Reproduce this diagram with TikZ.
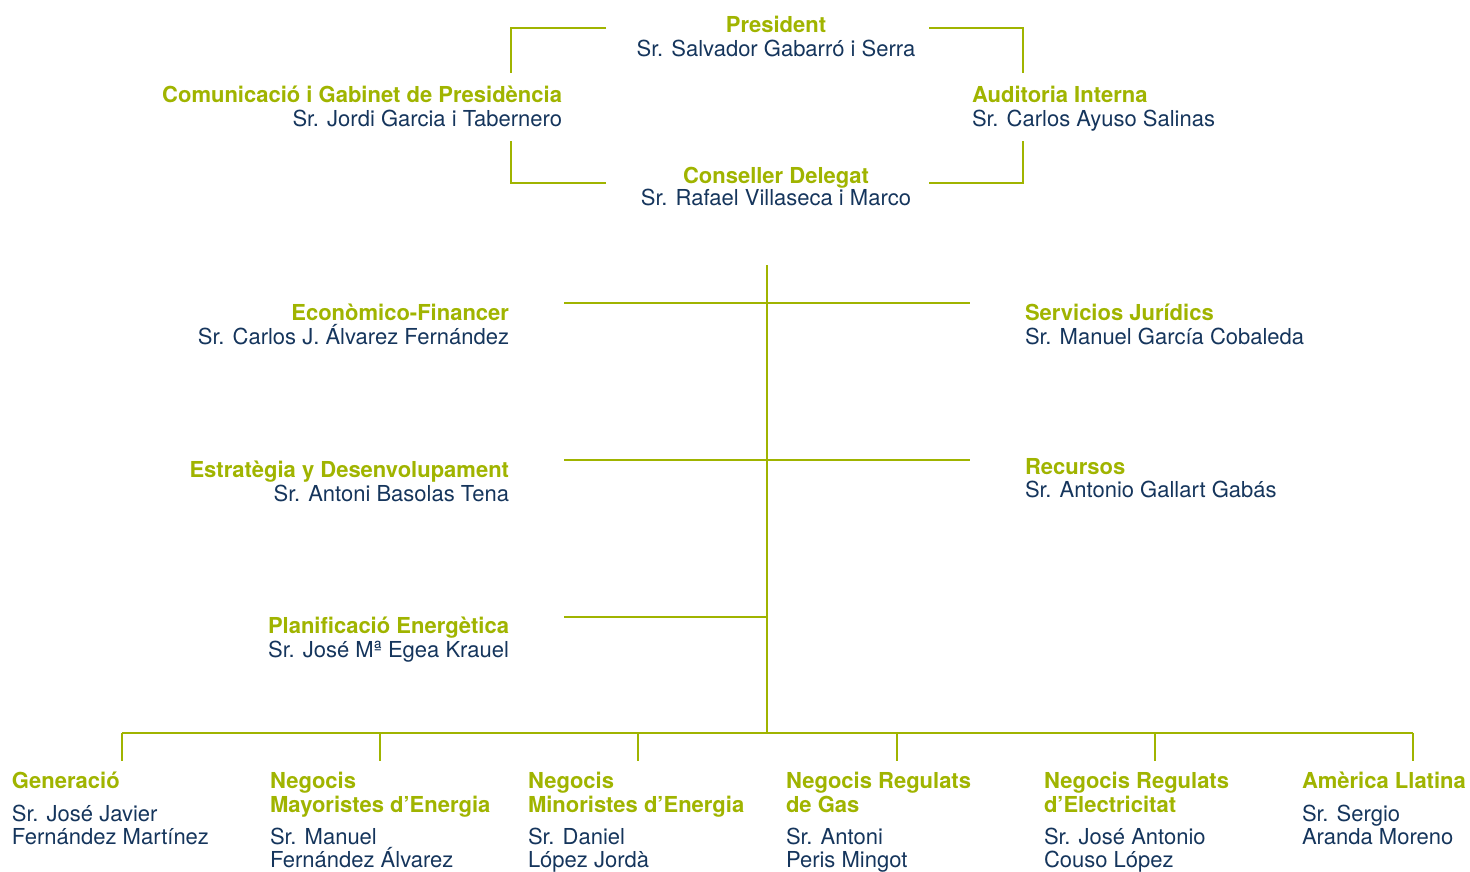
\documentclass[tikz,border=0pt]{standalone}
\usepackage{fontspec}
\setmainfont{TeX Gyre Heros}
\definecolor{orgGreen}{HTML}{A0B400}
\definecolor{orgNavy}{HTML}{15355C}
\tikzset{
  ttl/.style={font=\fontsize{22}{24}\selectfont\bfseries, text=orgGreen, inner sep=0pt, outer sep=0pt},
  nm/.style={font=\fontsize{22}{24}\selectfont, text=orgNavy, inner sep=0pt, outer sep=0pt},
  ln/.style={draw=orgGreen, line width=2pt}
}
\begin{document}
\begin{tikzpicture}[x=1pt,y=-1pt]
\useasboundingbox (0,0) rectangle (1470,871);
% --- top block ---
\node[ttl, anchor=base] (pres) at (776,32.5) {President};
\node[nm, anchor=base] (presN) at (776,56.5) {Sr. Salvador Gabarró i Serra};
\node[ttl, anchor=base east] (com) at (562,102.5) {Comunicació i Gabinet de Presidència};
\node[nm, anchor=base east] (comN) at (562,126.5) {Sr. Jordi Garcia i Tabernero};
\node[ttl, anchor=base west] (aud) at (972,102.5) {Auditoria Interna};
\node[nm, anchor=base west] (audN) at (972,126.5) {Sr. Carlos Ayuso Salinas};
\node[ttl, anchor=base] (cons) at (776,183.5) {Conseller Delegat};
\node[nm, anchor=base] (consN) at (776,205.5) {Sr. Rafael Villaseca i Marco};
% brackets
\coordinate (pL) at (606,28); \coordinate (pLc) at (511,28); \coordinate (comT) at (511,73);
\coordinate (pR) at (929,28); \coordinate (pRc) at (1023,28); \coordinate (audT) at (1023,73);
\coordinate (cL) at (606,183); \coordinate (cLc) at (511,183); \coordinate (comB) at (511,141);
\coordinate (cR) at (929,183); \coordinate (cRc) at (1023,183); \coordinate (audB) at (1023,141);
\draw[ln] (pL) -- (pLc) -- (comT);
\draw[ln] (pR) -- (pRc) -- (audT);
\draw[ln] (cL) -- (cLc) -- (comB);
\draw[ln] (cR) -- (cRc) -- (audB);
% --- middle block ---
\coordinate (trT) at (767,265);
\coordinate (trB) at (767,733);
\draw[ln] (trT) -- (trB);
\coordinate (h1L) at (564,303); \coordinate (h1R) at (970,303);
\coordinate (h2L) at (564,460); \coordinate (h2R) at (970,460);
\coordinate (h3L) at (564,617); \coordinate (h3R) at (767,617);
\draw[ln] (h1L) -- (h1R);
\draw[ln] (h2L) -- (h2R);
\draw[ln] (h3L) -- (h3R);
\node[ttl, anchor=base east] (eco) at (509,320.5) {Econòmico-Financer};
\node[nm, anchor=base east] (ecoN) at (509,344.5) {Sr. Carlos J. Álvarez Fernández};
\node[ttl, anchor=base east] (est) at (509,477.5) {Estratègia y Desenvolupament};
\node[nm, anchor=base east] (estN) at (509,501.5) {Sr. Antoni Basolas Tena};
\node[ttl, anchor=base east] (pla) at (509,633.5) {Planificació Energètica};
\node[nm, anchor=base east] (plaN) at (509,657.5) {Sr. José Mª Egea Krauel};
\node[ttl, anchor=base west] (ser) at (1025,320.5) {Servicios Jurídics};
\node[nm, anchor=base west] (serN) at (1025,344.5) {Sr. Manuel García Cobaleda};
\node[ttl, anchor=base west] (rec) at (1025,474.5) {Recursos};
\node[nm, anchor=base west] (recN) at (1025,497.5) {Sr. Antonio Gallart Gabás};
% --- bottom bus ---
\coordinate (busL) at (122,733); \coordinate (busR) at (1413,733);
\draw[ln] (busL) -- (busR);
\foreach \i/\x in {1/122,2/380,3/638,4/897,5/1155,6/1413}{
  \coordinate (d\i a) at (\x,733);
  \coordinate (d\i b) at (\x,761);
  \draw[ln] (d\i a) -- (d\i b);
}
% bottom labels
\node[ttl, anchor=base west] (g1t) at (12,788) {Generació};
\node[nm, anchor=base west] (g1n) at (12,821) {Sr. José Javier};
\node[nm, anchor=base west] (g1m) at (12,844) {Fernández Martínez};

\node[ttl, anchor=base west] (g2t) at (270,788) {Negocis};
\node[ttl, anchor=base west] (g2u) at (270,812) {Mayoristes d’Energia};
\node[nm, anchor=base west] (g2n) at (270,844) {Sr. Manuel};
\node[nm, anchor=base west] (g2m) at (270,867) {Fernández Álvarez};

\node[ttl, anchor=base west] (g3t) at (528,788) {Negocis};
\node[ttl, anchor=base west] (g3u) at (528,812) {Minoristes d’Energia};
\node[nm, anchor=base west] (g3n) at (528,844) {Sr. Daniel};
\node[nm, anchor=base west] (g3m) at (528,867) {López Jordà};

\node[ttl, anchor=base west] (g4t) at (786,788) {Negocis Regulats};
\node[ttl, anchor=base west] (g4u) at (786,812) {de Gas};
\node[nm, anchor=base west] (g4n) at (786,844) {Sr. Antoni};
\node[nm, anchor=base west] (g4m) at (786,867) {Peris Mingot};

\node[ttl, anchor=base west] (g5t) at (1044,788) {Negocis Regulats};
\node[ttl, anchor=base west] (g5u) at (1044,812) {d’Electricitat};
\node[nm, anchor=base west] (g5n) at (1044,844) {Sr. José Antonio};
\node[nm, anchor=base west] (g5m) at (1044,867) {Couso López};

\node[ttl, anchor=base west] (g6t) at (1302,788) {Amèrica Llatina};
\node[nm, anchor=base west] (g6n) at (1302,821) {Sr. Sergio};
\node[nm, anchor=base west] (g6m) at (1302,844) {Aranda Moreno};
\end{tikzpicture}
\end{document}
